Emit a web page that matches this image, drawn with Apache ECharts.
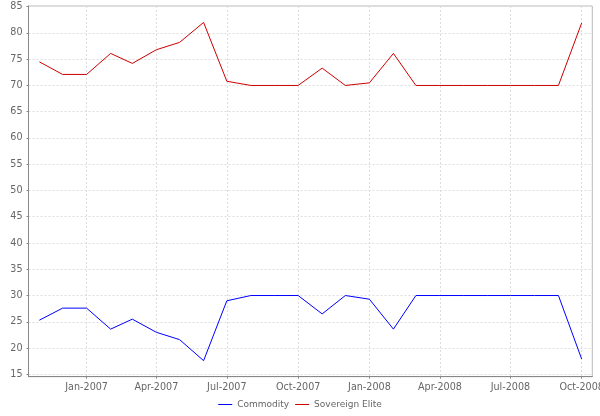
<!DOCTYPE html>
<html>
<head>
<meta charset="utf-8">
<script src="https://cdn.jsdelivr.net/npm/echarts@6/dist/echarts.min.js"></script>
<style>html,body{margin:0;padding:0;background:#fff}#c{width:600px;height:416px}</style>
</head>
<body>
<div id="c"></div>
<script>
// Monthly dates, Nov 2006 .. Oct 2008 (year, month index)
var months = [
  [2006,10],[2006,11],
  [2007,0],[2007,1],[2007,2],[2007,3],[2007,4],[2007,5],[2007,6],[2007,7],[2007,8],[2007,9],[2007,10],[2007,11],
  [2008,0],[2008,1],[2008,2],[2008,3],[2008,4],[2008,5],[2008,6],[2008,7],[2008,8],[2008,9]
];
var commodity = [25.3,27.6,27.6,23.6,25.5,23.0,21.6,17.6,29.0,30,30,30,26.5,30,29.3,23.6,30,30,30,30,30,30,30,17.9];
var sovereignElite = [74.5,72.1,72.1,76.1,74.2,76.8,78.2,82.0,70.8,70,70,70,73.3,70,70.5,76.1,70,70,70,70,70,70,70,81.9];
var xTickDates = [[2007,0],[2007,3],[2007,6],[2007,9],[2008,0],[2008,3],[2008,6],[2008,9]];
var yTicks = [15,20,25,30,35,40,45,50,55,60,65,70,75,80,85];
var monthNames = ['Jan','Feb','Mar','Apr','May','Jun','Jul','Aug','Sep','Oct','Nov','Dec'];

var DAY = 86400000;
// x values are days since epoch (UTC)
function dayNum(p){ return Date.UTC(p[0], p[1], 1) / DAY; }
var times = months.map(dayNum);
var xTicks = xTickDates.map(dayNum);

var chart = echarts.init(document.getElementById('c'), null, {renderer:'canvas'});
var labelColor = '#666';
var font = 'DejaVu Sans';
chart.setOption({
  animation: false,
  backgroundColor: '#fff',
  textStyle: {fontFamily: font},
  grid: {left: 28.5, right: 7.7, top: 6, bottom: 39.3, outerBoundsMode: 'none', containLabel: false,
         show: true, borderColor: '#bbb', borderWidth: 1, backgroundColor: 'transparent'},
  legend: {
    bottom: 2, left: 'center', icon: 'rect', itemWidth: 14, itemHeight: 1, itemGap: 6,
    textStyle: {color: labelColor, fontSize: 9, fontFamily: font},
    data: ['Commodity', 'Sovereign Elite']
  },
  xAxis: {
    type: 'value',
    min: Date.UTC(2006, 9, 18) / DAY,
    max: Date.UTC(2008, 9, 1) / DAY + 13.7,
    axisLine: {lineStyle: {color: '#888', width: 1}},
    axisTick: {show: true, length: 2, customValues: xTicks, lineStyle: {color: '#888'}},
    axisLabel: {
      customValues: xTicks, color: labelColor, fontSize: 9.6, margin: 6, hideOverlap: false,
      formatter: function (v) { var d = new Date(v * DAY); return monthNames[d.getUTCMonth()] + '-' + d.getUTCFullYear(); }
    },
    splitLine: {show: true, lineStyle: {color: '#ddd', type: [2, 2], width: 1}}
  },
  yAxis: {
    type: 'value',
    min: 14.543, max: 85.13,
    axisLine: {show: true, lineStyle: {color: '#888', width: 1}},
    axisTick: {show: true, length: 2, customValues: yTicks, lineStyle: {color: '#888'}},
    axisLabel: {customValues: yTicks, color: labelColor, fontSize: 9.6, margin: 6},
    splitLine: {show: true, lineStyle: {color: '#ddd', type: [2, 2], width: 1}}
  },
  series: [
    {name: 'Commodity', type: 'line', symbol: 'none', color: '#0000ff', lineStyle: {width: 1, color: '#0000ff'},
     data: times.map(function (t, i) { return [t, commodity[i]]; })},
    {name: 'Sovereign Elite', type: 'line', symbol: 'none', color: '#cc0000', lineStyle: {width: 1, color: '#cc0000'},
     data: times.map(function (t, i) { return [t, sovereignElite[i]]; })}
  ]
});
</script>
</body>
</html>
